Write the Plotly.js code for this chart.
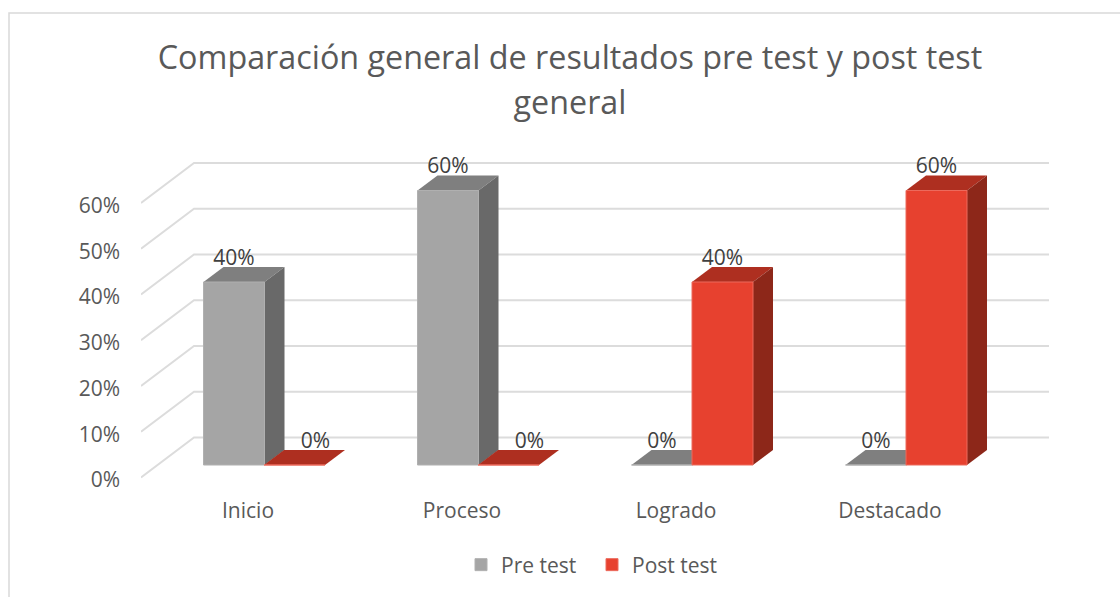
<!DOCTYPE html>
<html><head><meta charset="utf-8">
<script src="https://cdn.plot.ly/plotly-3.0.1.min.js"></script>
<style>html,body{margin:0;padding:0;background:#fff}#c{width:1120px;height:597px}</style>
</head><body><div id="c"></div>
<script>
const categories = ['Inicio','Proceso','Logrado','Destacado'];
const preTest = [40,60,0,0];
const postTest = [0,0,40,60];
const yTicks = [0,10,20,30,40,50,60];
const seriesNames = ['Pre test','Post test'];

const FONT = '"Open Sans", sans-serif';
const L=141, R=1049, T=150, Y0=477.5, B=490, W=1120, H=597;
const pxX=214, pxY=4.575;
const ux=p=>p/pxX, uy=p=>p/pxY;
const xRange=[-0.5,-0.5+(R-L)/pxX], yRange=[(Y0-B)/pxY,(Y0-T)/pxY];
const backDX=ux(53), backDY=uy(40);
const barW=ux(61), depthX=ux(20), depthY=uy(15), floor=uy(12.5);
const offs=[ux(-44.5),ux(16)];
const idx=categories.map((_,i)=>i);
const px=p=>(p-L)/(R-L), py=p=>(B-p)/(B-T);

const shapes=yTicks.map(t=>({type:'path',layer:'below',xref:'x',yref:'y',
  path:`M${xRange[0]},${t} L${xRange[0]+backDX},${t+backDY} L${xRange[1]},${t+backDY}`,
  line:{color:'#dcdcdc',width:2}}));
shapes.push({type:'path',layer:'below',xref:'paper',yref:'paper',
  path:`M${px(9)},${py(597)} L${px(9)},${py(13)} L${px(1120)},${py(13)}`,
  line:{color:'#d9d9d9',width:1.5}});

function faces(vals,off,topCol,sideCol){
  const out=[];
  vals.forEach((v,i)=>{
    const x0=i+off,x1=x0+barW,yb=floor,yt=floor+v;
    out.push({type:'scatter',mode:'lines',x:[x0,x1,x1+depthX,x0+depthX,x0],y:[yt,yt,yt+depthY,yt+depthY,yt],
      fill:'toself',fillcolor:topCol,line:{width:0,color:topCol},showlegend:false,hoverinfo:'skip'});
    if(v>0) out.push({type:'scatter',mode:'lines',x:[x1,x1+depthX,x1+depthX,x1,x1],y:[yb,yb+depthY,yt+depthY,yt,yb],
      fill:'toself',fillcolor:sideCol,line:{width:0,color:sideCol},showlegend:false,hoverinfo:'skip'});
  });
  return out;
}
function bar(vals,off,name,col,edge){
  return {type:'bar',name,x:idx,y:vals,base:vals.map(()=>floor),width:barW,offset:off,yaxis:'y2',
    marker:{color:col,line:{color:edge,width:1}},hoverinfo:'skip'};
}
function labels(vals,off,shift){
  return {type:'scatter',mode:'text',yaxis:'y2',showlegend:false,hoverinfo:'skip',
    x:vals.map((v,i)=>i+off+barW/2+(v===0?shift:0)),
    y:vals.map(v=>floor+v+depthY+uy(7.5)),
    text:vals.map(v=>v+'%'),textposition:'middle center',
    textfont:{family:FONT,size:21,color:'#404040'},cliponaxis:false};
}
const data=[
  ...faces(preTest,offs[0],'#7f7f7f','#696969'),
  ...faces(postTest,offs[1],'#ae2f20','#8d2719'),
  bar(preTest,offs[0],seriesNames[0],'#a5a5a5','#b0b0b0'),
  bar(postTest,offs[1],seriesNames[1],'#e7412f','#ec6a5c'),
  labels(preTest,offs[0],0),
  labels(postTest,offs[1],ux(21))
];
const titleSpan=s=>`<span style="font-size:32.3px">${s}</span>`;
const layout={
  width:W,height:H,margin:{l:L,r:W-R,t:T,b:H-B,pad:0},
  paper_bgcolor:'#fff',plot_bgcolor:'rgba(0,0,0,0)',showlegend:true,barmode:'overlay',
  title:{text:titleSpan('Comparación general de resultados pre test y post test')+'<br>'+titleSpan('general'),
    font:{family:FONT,size:34.8,color:'#595959'},x:570/W,xanchor:'center',y:1-68.5/H,yanchor:'middle',automargin:false},
  xaxis:{range:xRange,tickmode:'array',tickvals:idx,ticktext:categories,showgrid:false,zeroline:false,showline:false,
    ticks:'',ticklabelstandoff:6,tickfont:{family:FONT,size:21,color:'#595959'},fixedrange:true},
  yaxis:{range:yRange,tickmode:'array',tickvals:yTicks.map(t=>t-uy(2.5)),ticktext:yTicks.map(t=>t+'%'),showgrid:false,zeroline:false,showline:false,
    ticks:'',ticklabelstandoff:20,tickfont:{family:FONT,size:21,color:'#595959'},fixedrange:true},
  yaxis2:{range:yRange,overlaying:'y',side:'left',visible:false,fixedrange:true},
  legend:{orientation:'h',x:px(461),xanchor:'left',y:py(565),yanchor:'middle',entrywidth:86,entrywidthmode:'pixels',
    font:{family:FONT,size:21,color:'#595959'},bgcolor:'rgba(0,0,0,0)',traceorder:'normal'},
  shapes
};
Plotly.newPlot('c',data,layout,{displayModeBar:false,staticPlot:true});
</script></body></html>
